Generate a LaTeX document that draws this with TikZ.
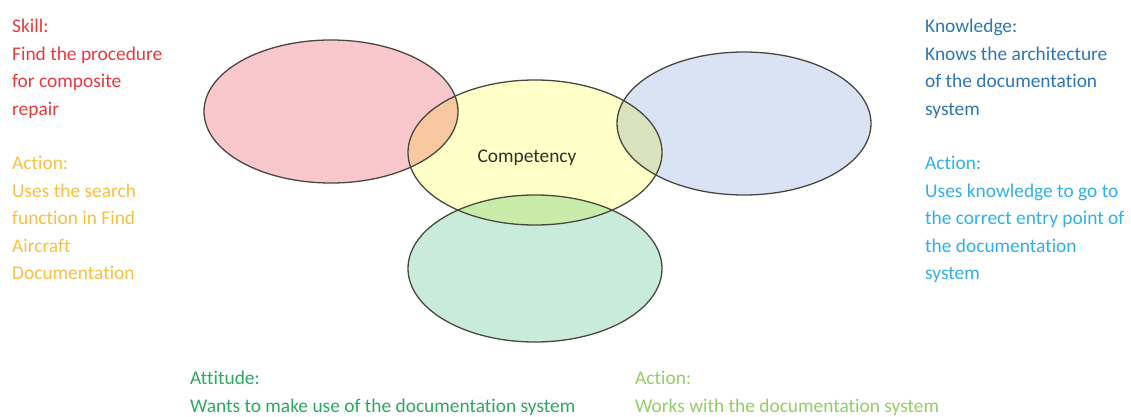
\documentclass[tikz,border=0pt]{standalone}
\usepackage{fontspec}
\setmainfont[Ligatures=NoCommon]{Carlito}
\usetikzlibrary{shapes.geometric}

\definecolor{skillred}{RGB}{232,56,64}
\definecolor{skillact}{RGB}{246,192,66}
\definecolor{knowblue}{RGB}{46,117,182}
\definecolor{knowact}{RGB}{48,176,232}
\definecolor{attgreen}{RGB}{46,168,96}
\definecolor{attact}{RGB}{146,206,100}
\definecolor{fillred}{RGB}{248,200,204}
\definecolor{fillyel}{RGB}{255,255,200}
\definecolor{fillblue}{RGB}{218,227,243}
\definecolor{fillgreen}{RGB}{200,235,218}
\definecolor{rim}{RGB}{72,72,62}

\begin{document}
\begin{tikzpicture}[x=1pt, y=-1pt,
  el/.style={ellipse, minimum width=254pt, minimum height=143pt, inner sep=0pt},
  fl/.style={el, blend mode=multiply},
  ol/.style={el, draw=rim, line width=1.3pt},
  tx/.style={anchor=north west, align=left, inner sep=0pt,
             font=\fontsize{19.4}{27.5}\selectfont}]
\useasboundingbox (0,0) rectangle (1131,417);
\node[fl, fill=fillred] (s) at (331,111.5) {};
\node[fl, fill=fillblue] (k) at (744,123.5) {};
\node[fl, fill=fillgreen, minimum height=147pt] (a) at (535,268.5) {};
\node[fl, fill=fillyel, minimum height=145pt] (c) at (535,152.5) {};
\node[ol] at (s) {};
\node[ol] at (k) {};
\node[ol, minimum height=147pt] at (a) {};
\node[ol, minimum height=145pt] at (c) {};
\node[font=\fontsize{19.4}{27.5}\selectfont, text={rgb,255:red,50;green,50;blue,40}]
  (cl) at (527,158) {Competency};
\node[tx, text=skillred] (s1) at (12,19) {Skill:\\Find the procedure\\for composite\\repair};
\node[tx, text=skillact] (s2) at (12,156) {Action:\\Uses the search\\function in Find\\Aircraft\\Documentation};
\node[tx, text=knowblue] (k1) at (925,19) {Knowledge:\\Knows the architecture\\of the documentation\\system};
\node[tx, text=knowact] (k2) at (925,156) {Action:\\Uses knowledge to go to\\the correct entry point of\\the documentation\\system};
\node[tx, text=attgreen] (a1) at (190,371) {Attitude:\\Wants to make use of the documentation system};
\node[tx, text=attact] (a2) at (635,371) {Action:\\Works with the documentation system};
\end{tikzpicture}
\end{document}
